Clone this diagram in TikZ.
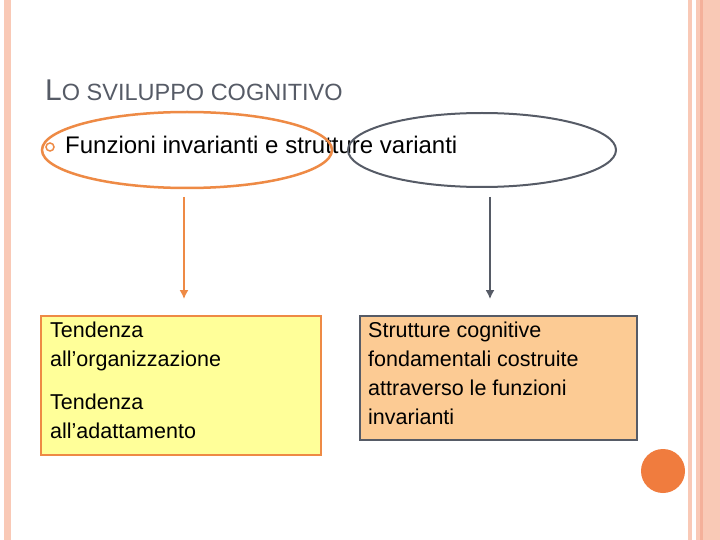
\documentclass[tikz,border=0pt]{standalone}
\usepackage{fontspec}
\setmainfont{Liberation Sans}
\usetikzlibrary{arrows.meta}
\definecolor{stripe}{HTML}{F9C9B6}
\definecolor{stripeD}{HTML}{F4B09A}
\definecolor{org}{HTML}{EE8A45}
\definecolor{gry}{HTML}{565B66}
\definecolor{ylw}{HTML}{FFFF99}
\definecolor{pch}{HTML}{FCCB94}
\tikzset{box/.style={draw, line width=2pt, anchor=north west, inner sep=0pt},
 txt/.style={font=\fontsize{21.5pt}{29pt}\selectfont, align=left, anchor=north west, inner sep=0pt},
 arr/.style={line width=1.5pt, -{Latex[length=9pt,width=9pt]}}}
\begin{document}
\begin{tikzpicture}[x=1pt,y=-1pt]
\useasboundingbox (0,0) rectangle (720,540);
\fill[white] (0,0) rectangle (720,540);
\fill[stripe] (4,0) rectangle (11,540);
\fill[stripe] (688,0) rectangle (692,540);
\fill[stripe] (696,0) rectangle (720,540);
\fill[stripeD] (700,0) rectangle (703,540);
\node[anchor=base west, inner sep=0pt, text=gry] (title) at (45,101) {\fontsize{30pt}{32pt}\selectfont L\fontsize{23.5pt}{26pt}\selectfont O SVILUPPO COGNITIVO};
\draw[org, line width=1.5pt] (50,147) circle (4);
\node[anchor=base west, inner sep=0pt, font=\fontsize{24pt}{26pt}\selectfont] (bul) at (65,154) {Funzioni invarianti e strutture varianti};
\draw[org, line width=2.5pt] (187,150) ellipse (145 and 38);
\draw[gry, line width=2pt] (482,150) ellipse (134 and 37);
\coordinate (a1) at (184,197); \coordinate (a2) at (184,299);
\coordinate (b1) at (490,197); \coordinate (b2) at (490,299);
\draw[arr, org] (a1) -- (a2);
\draw[arr, gry] (b1) -- (b2);
\draw[box, org, fill=ylw] (41,316) rectangle (321,455);
\draw[box, gry, fill=pch] (360,316) rectangle (637,440);
\node[txt] (l1) at (50,322) {Tendenza\\all’organizzazione};
\node[txt] (l2) at (50,394) {Tendenza\\all’adattamento};
\node[txt] (r1) at (368,322) {Strutture cognitive\\fondamentali costruite\\attraverso le funzioni\\invarianti};
\fill[org!90!red] (663,471) circle (22);
\end{tikzpicture}
\end{document}
